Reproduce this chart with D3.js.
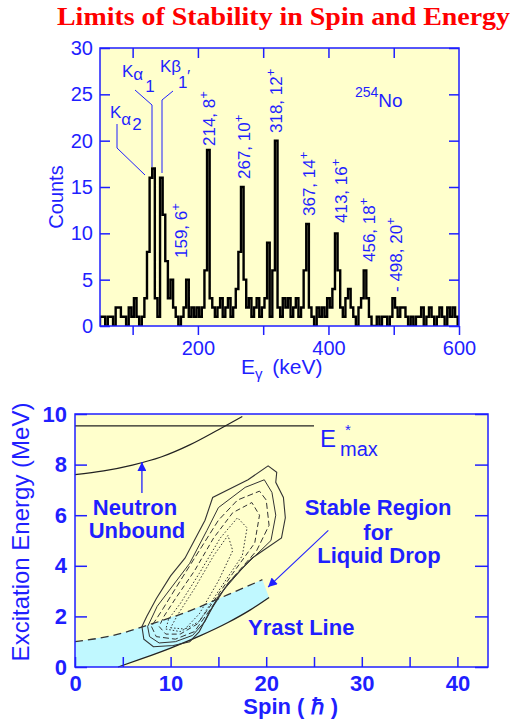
<!DOCTYPE html>
<html>
<head>
<meta charset="utf-8">
<script src="https://cdn.jsdelivr.net/npm/d3@7"></script>
<style>
  body { margin: 0; background: #fff; }
  svg text { font-family: "Liberation Sans", Arial, sans-serif; }
</style>
</head>
<body>
<div id="chart"></div>
<script>
// ---- spectrum data (4 keV bins starting at 50 keV) ----
const histStart = 50;
const binWidth = 4;
const counts = [
  1, 1, 0, 1, 1, 0, 2, 2, 1, 1, 0, 2, 1, 3, 1, 0, 1, 3, 8, 16,
  17, 3, 1, 16, 12, 7, 3, 5, 2, 1, 0, 1, 2, 5, 1, 2, 1, 2, 1, 2,
  6, 19, 3, 2, 1, 2, 3, 1, 2, 3, 1, 2, 4, 8, 15, 5, 2, 3, 1, 2,
  3, 1, 2, 3, 9, 1, 6, 20, 2, 1, 3, 2, 3, 1, 2, 3, 1, 2, 6, 11,
  2, 1, 0, 2, 1, 2, 1, 3, 2, 4, 10, 6, 2, 1, 3, 4, 2, 1, 0, 2,
  3, 6, 3, 1, 0, 0, 1, 0, 1, 1, 0, 1, 3, 2, 1, 2, 2, 1, 0, 1,
  0, 1, 1, 2, 0, 1, 2, 1, 0, 1, 2, 1, 0, 2, 1, 2, 1
];
const countTicks = [0, 5, 10, 15, 20, 25, 30];
const energyTicks = [100, 200, 300, 400, 500, 600];
const energyLabels = [200, 400, 600];
const peakLabels = [
  { e: 159, text: "159, 6" }, { e: 214, text: "214, 8" },
  { e: 267, text: "267, 10" }, { e: 318, text: "318, 12" },
  { e: 367, text: "367, 14" }, { e: 413, text: "413, 16" },
  { e: 456, text: "456, 18" }, { e: 498, text: "- 498, 20" }
];

// ---- excitation energy vs spin ----
const spinTicks = [0, 5, 10, 15, 20, 25, 30, 35, 40];
const spinLabels = [0, 10, 20, 30, 40];
const energyMeVTicks = [0, 2, 4, 6, 8, 10];
const eMax = 9.53;
const eMaxSpin = [0, 25];
const neutronSpin = [0, 3, 6, 9, 12, 15, 17.5];
const neutronE = [7.6, 7.75, 7.98, 8.3, 8.78, 9.38, 9.9];
const ldropSpin = [0, 4, 8, 12, 16, 19.6];
const ldropE = [1.0, 1.25, 1.7, 2.22, 2.86, 3.45];
const yrastSpin = [4.5, 7, 10, 13, 16, 18.3, 20.3];
const yrastE = [0, 0.33, 0.75, 1.22, 1.76, 2.25, 2.75];
const contourOuter = [[7.0,1.6],[7.2,1.1],[8.2,0.8],[10.3,0.85],[12,1.0],[13,1.4],[14.1,2.2],[16,3.3],[18.5,4.3],[21.6,5.1],[22,5.9],[21.8,6.7],[21.0,7.3],[21.1,7.7],[20.2,7.95],[18.1,7.4],[14.4,6.7],[13.6,5.8],[11.5,4.3],[10,3.6],[8.5,2.7],[7.5,2.0]];
const contourSolid2 = [[7.6,1.6],[7.8,1.2],[8.8,0.95],[10.5,1.0],[12.3,1.25],[13.6,1.8],[15,2.8],[17.5,3.9],[20.5,5.0],[21,6.0],[20.6,6.9],[19.8,7.4],[17.8,7.1],[15,6.3],[13.8,5.4],[12,4.1],[10.2,3.2],[8.6,2.4]];
const contourDash1 = [[8.0,1.6],[8.5,1.2],[10.5,1.1],[12.5,1.4],[14,2.2],[16,3.3],[19,4.6],[20.3,5.6],[20,6.6],[19.3,6.95],[17,6.6],[15,5.8],[13,4.6],[11,3.4],[9.2,2.3]];
const contourDash2 = [[8.8,1.6],[9.5,1.3],[11,1.3],[12.8,1.7],[14.5,2.6],[16.5,3.7],[18.8,4.9],[19.3,6.0],[18.5,6.5],[16.5,6.1],[14.5,5.1],[12.5,3.8],[10.5,2.7],[9.3,2.0]];
const contourDot1 = [[9.5,1.5],[11,1.4],[13,1.8],[15,3.0],[17.5,4.4],[18,5.5],[17,5.9],[15.2,5.1],[13,3.7],[11,2.5],[9.8,1.9]];
const contourDot2 = [[10,1.55],[11.5,1.5],[13,2.1],[15,3.4],[16.5,4.6],[16,5.2],[14.5,4.4],[12.5,3.1],[10.8,2.1]];

const blue = "#1f1fff";
const yellow = "#ffffcc";
const cyan = "#c0f8ff";

const svg = d3.select("#chart").append("svg")
  .attr("width", 513).attr("height", 721);

// title
svg.append("text")
  .attr("x", 57).attr("y", 25)
  .attr("textLength", 453).attr("lengthAdjust", "spacingAndGlyphs")
  .style("font-family", "'Liberation Serif', 'Times New Roman', serif")
  .style("font-weight", "bold").style("font-size", "26px")
  .attr("fill", "#ff0000")
  .text("Limits of Stability in Spin and Energy");

// ================= spectrum =================
const xE = d3.scaleLinear([50, 600], [100, 459]);
const yC = d3.scaleLinear([0, 30], [326, 48]);

const specG = svg.append("g");
specG.append("rect")
  .attr("x", xE(50)).attr("y", yC(30))
  .attr("width", xE(600) - xE(50)).attr("height", yC(0) - yC(30))
  .attr("fill", yellow);

specG.append("clipPath").attr("id", "clipTop").append("rect")
  .attr("x", xE(50)).attr("y", yC(30))
  .attr("width", xE(600) - xE(50)).attr("height", yC(0) - yC(30));

const stepPts = [[histStart, 0]];
counts.forEach((c, i) => {
  stepPts.push([histStart + i * binWidth, c]);
  stepPts.push([histStart + (i + 1) * binWidth, c]);
});
stepPts.push([histStart + counts.length * binWidth, 0]);

specG.append("path")
  .attr("clip-path", "url(#clipTop)")
  .attr("d", d3.line().x(d => xE(d[0])).y(d => yC(d[1]))(stepPts))
  .attr("fill", "none").attr("stroke", "#000").attr("stroke-width", 2.4);

// axes
function styleAxis(g, size) {
  g.select(".domain").remove();
  g.selectAll(".tick line").attr("stroke", blue).attr("stroke-width", 1.5);
  g.selectAll(".tick text").attr("fill", blue).style("font-size", size)
    .style("font-family", "'Liberation Sans', Arial, sans-serif");
}
specG.append("g").attr("transform", `translate(${xE(50)},0)`)
  .call(d3.axisLeft(yC).tickValues(countTicks).tickSize(-10).tickPadding(7))
  .call(g => styleAxis(g, "20px"));
specG.append("g").attr("transform", `translate(${xE(600)},0)`)
  .call(d3.axisRight(yC).tickValues(countTicks).tickSize(-10).tickFormat(""))
  .call(g => styleAxis(g, "20px"));
specG.append("g").attr("transform", `translate(0,${yC(30)})`)
  .call(d3.axisTop(xE).tickValues(energyTicks.slice(0, 5)).tickSize(-10).tickFormat(""))
  .call(g => styleAxis(g, "20px"));
specG.append("g").attr("transform", `translate(0,${yC(0)})`)
  .call(d3.axisBottom(xE).tickValues(energyTicks).tickSize(9).tickPadding(6)
    .tickFormat(d => energyLabels.includes(d) ? d : ""))
  .call(g => styleAxis(g, "20px"));
specG.append("rect")
  .attr("x", xE(50)).attr("y", yC(30))
  .attr("width", xE(600) - xE(50)).attr("height", yC(0) - yC(30))
  .attr("fill", "none").attr("stroke", blue).attr("stroke-width", 1.5);

// axis titles
svg.append("text")
  .attr("transform", "translate(63,197) rotate(-90)")
  .attr("text-anchor", "middle").attr("fill", blue).style("font-size", "20px")
  .text("Counts");
const exl = svg.append("text").attr("x", 241).attr("y", 374)
  .attr("fill", blue).style("font-size", "21px");
exl.append("tspan").text("E");
exl.append("tspan").attr("dy", 5).style("font-size", "15px").text("γ");
exl.append("tspan").attr("dy", -5).attr("dx", 4).text(" (keV)");

// peak labels
const peakBase = { 159: [187, 258], 214: [215, 146], 267: [250, 179], 318: [282, 133],
  367: [315, 216], 413: [347, 223], 456: [375, 262], 498: [402, 292] };
peakLabels.forEach(p => {
  const [bx, by] = peakBase[p.e];
  const t = svg.append("text")
    .attr("transform", `translate(${bx},${by}) rotate(-90)`)
    .attr("fill", blue).style("font-size", "17px");
  t.append("tspan").text(p.text);
  t.append("tspan").attr("dy", -7).style("font-size", "13px").text("+");
});

// K x-ray labels
const ka2 = svg.append("text").attr("x", 110).attr("y", 118).attr("fill", blue).style("font-size", "17px");
ka2.append("tspan").text("K");
ka2.append("tspan").attr("dy", 7).text("α");
ka2.append("tspan").attr("dy", 5).attr("dx", 1).text("2");
const ka1 = svg.append("text").attr("x", 122).attr("y", 77).attr("fill", blue).style("font-size", "17px");
ka1.append("tspan").text("K");
ka1.append("tspan").attr("dy", 3).text("α");
ka1.append("tspan").attr("dy", 12).attr("dx", 2).text("1");
const kb1 = svg.append("text").attr("x", 160).attr("y", 72).attr("fill", blue).style("font-size", "17px");
kb1.append("tspan").text("K");
kb1.append("tspan").text("β");
kb1.append("tspan").attr("x", 178).attr("y", 88).text("1");
kb1.append("tspan").attr("x", 187).attr("y", 82).text("′");

const leader = d3.line();
[
  [[117, 124], [117, 148], [145, 175]],
  [[135, 90], [152, 105], [152, 167]],
  [[173, 91], [162, 100], [162, 173]]
].forEach(pts => {
  svg.append("path").attr("d", leader(pts))
    .attr("fill", "none").attr("stroke", blue).attr("stroke-width", 1);
});

const nucl = svg.append("text").attr("x", 355).attr("y", 97).attr("fill", blue).style("font-size", "14px");
nucl.append("tspan").text("254");
nucl.append("tspan").attr("dy", 10).style("font-size", "19px").text("No");

// ================= E* vs spin =================
const xS = d3.scaleLinear([0, 43.2], [75, 488]);
const yX = d3.scaleLinear([0, 10], [667, 414]);

const botG = svg.append("g");
botG.append("rect")
  .attr("x", xS(0)).attr("y", yX(10))
  .attr("width", xS(43.2) - xS(0)).attr("height", yX(0) - yX(10))
  .attr("fill", yellow);

const line = d3.line().x(d => xS(d[0])).y(d => yX(d[1]));
const smooth = d3.line().x(d => xS(d[0])).y(d => yX(d[1])).curve(d3.curveMonotoneX);
const zipPts = (a, b) => a.map((v, i) => [v, b[i]]);

// stable band between liquid-drop line and yrast line
const ldropPts = zipPts(ldropSpin, ldropE);
const yrastPts = zipPts(yrastSpin, yrastE);
const bandPts = ldropPts.concat(yrastPts.slice().reverse(), [[0, 0]]);
botG.append("path").attr("d", line(bandPts) + "Z").attr("fill", cyan);

botG.append("path").attr("d", smooth(ldropPts))
  .attr("fill", "none").attr("stroke", "#333").attr("stroke-width", 1.3)
  .attr("stroke-dasharray", "8,5");
botG.append("path").attr("d", smooth(yrastPts))
  .attr("fill", "none").attr("stroke", "#222").attr("stroke-width", 1.3);

// contours
const closed = d3.line().x(d => xS(d[0])).y(d => yX(d[1])).curve(d3.curveLinearClosed);
[
  [contourOuter, null, 1.1], [contourSolid2, null, 1.0],
  [contourDash1, "6,3", 1.0], [contourDash2, "5,3", 1.0],
  [contourDot1, "1.5,2", 1.0], [contourDot2, "1.5,2", 1.0]
].forEach(([pts, dash, w]) => {
  botG.append("path").attr("d", closed(pts))
    .attr("fill", "none").attr("stroke", "#333").attr("stroke-width", w)
    .attr("stroke-dasharray", dash);
});

// neutron binding line and E*max
botG.append("path")
  .attr("d", smooth(zipPts(neutronSpin, neutronE)))
  .attr("fill", "none").attr("stroke", "#222").attr("stroke-width", 1.2);
botG.append("line")
  .attr("x1", xS(eMaxSpin[0])).attr("x2", xS(eMaxSpin[1]))
  .attr("y1", yX(eMax)).attr("y2", yX(eMax))
  .attr("stroke", "#222").attr("stroke-width", 1.2);

// arrows
svg.append("defs").append("marker")
  .attr("id", "arr").attr("viewBox", "0 0 10 10")
  .attr("refX", 10).attr("refY", 5)
  .attr("markerWidth", 14).attr("markerHeight", 9)
  .attr("markerUnits", "userSpaceOnUse")
  .attr("orient", "auto")
  .append("path").attr("d", "M0,0L10,5L0,10Z").attr("fill", blue);

botG.append("line")
  .attr("x1", xS(7)).attr("y1", yX(6.88)).attr("x2", xS(7)).attr("y2", yX(8.1))
  .attr("stroke", blue).attr("stroke-width", 1.3).attr("marker-end", "url(#arr)");
botG.append("line")
  .attr("x1", xS(26.5)).attr("y1", yX(5.4)).attr("x2", xS(20.2)).attr("y2", yX(3.16))
  .attr("stroke", blue).attr("stroke-width", 1.1).attr("marker-end", "url(#arr)");

// annotation text
const bold22 = sel => sel.attr("fill", blue).style("font-size", "22px").style("font-weight", "bold");
[["Neutron", 135, 515], ["Unbound", 137, 538]].forEach(([t, x, y]) =>
  svg.append("text").attr("x", x).attr("y", y).attr("text-anchor", "middle").call(bold22).text(t));
[["Stable Region", 378, 515], ["for", 378, 540], ["Liquid Drop", 379, 563]].forEach(([t, x, y]) =>
  svg.append("text").attr("x", x).attr("y", y).attr("text-anchor", "middle").call(bold22).text(t));
svg.append("text").attr("x", 248).attr("y", 635).call(bold22).text("Yrast Line");

const em = svg.append("text").attr("x", 320).attr("y", 447).attr("fill", blue).style("font-size", "24px");
em.append("tspan").text("E");
em.append("tspan").attr("x", 345).attr("y", 435).style("font-size", "15px").text("*");
em.append("tspan").attr("x", 340).attr("y", 456).style("font-size", "20px").text("max");

// axes
botG.append("g").attr("transform", `translate(${xS(0)},0)`)
  .call(d3.axisLeft(yX).tickValues(energyMeVTicks).tickSize(-12).tickPadding(8))
  .call(g => styleAxis(g, "22px"))
  .call(g => g.selectAll(".tick text").style("font-weight", "bold"));
botG.append("g").attr("transform", `translate(${xS(43.2)},0)`)
  .call(d3.axisRight(yX).tickValues(energyMeVTicks).tickSize(-13).tickFormat(""))
  .call(g => styleAxis(g, "22px"));
botG.append("g").attr("transform", `translate(0,${yX(0)})`)
  .call(d3.axisBottom(xS).tickValues(spinTicks).tickSize(-10).tickPadding(8)
    .tickFormat(d => spinLabels.includes(d) ? d : ""))
  .call(g => styleAxis(g, "22px"))
  .call(g => g.selectAll(".tick text").style("font-weight", "bold"));
botG.append("rect")
  .attr("x", xS(0)).attr("y", yX(10))
  .attr("width", xS(43.2) - xS(0)).attr("height", yX(0) - yX(10))
  .attr("fill", "none").attr("stroke", blue).attr("stroke-width", 1.5);

svg.append("text")
  .attr("transform", `translate(29,532) rotate(-90)`)
  .attr("text-anchor", "middle").attr("fill", blue).style("font-size", "24px")
  .text("Excitation Energy (MeV)");
svg.append("text")
  .attr("x", 338).attr("y", 714).attr("text-anchor", "end")
  .call(bold22).text("Spin ( ℏ )");
</script>
</body>
</html>
